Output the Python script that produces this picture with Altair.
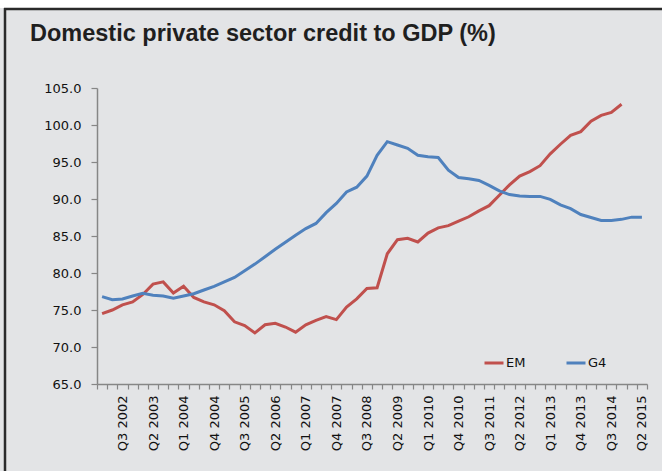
import json
import altair as alt
import pandas as pd

title_text = "Domestic private sector credit to GDP (%)"

quarters = [
    "Q1 2002", "Q2 2002", "Q3 2002", "Q4 2002",
    "Q1 2003", "Q2 2003", "Q3 2003", "Q4 2003",
    "Q1 2004", "Q2 2004", "Q3 2004", "Q4 2004",
    "Q1 2005", "Q2 2005", "Q3 2005", "Q4 2005",
    "Q1 2006", "Q2 2006", "Q3 2006", "Q4 2006",
    "Q1 2007", "Q2 2007", "Q3 2007", "Q4 2007",
    "Q1 2008", "Q2 2008", "Q3 2008", "Q4 2008",
    "Q1 2009", "Q2 2009", "Q3 2009", "Q4 2009",
    "Q1 2010", "Q2 2010", "Q3 2010", "Q4 2010",
    "Q1 2011", "Q2 2011", "Q3 2011", "Q4 2011",
    "Q1 2012", "Q2 2012", "Q3 2012", "Q4 2012",
    "Q1 2013", "Q2 2013", "Q3 2013", "Q4 2013",
    "Q1 2014", "Q2 2014", "Q3 2014", "Q4 2014",
    "Q1 2015", "Q2 2015",
]

em_values = [
    74.5, 75.0, 75.7, 76.1, 77.1, 78.5, 78.8, 77.3, 78.2, 76.7,
    76.1, 75.7, 74.9, 73.4, 72.9, 71.9, 73.0, 73.2, 72.7, 72.0,
    73.0, 73.6, 74.1, 73.7, 75.4, 76.5, 77.9, 78.0, 82.6, 84.5,
    84.7, 84.2, 85.4, 86.1, 86.4, 87.0, 87.6, 88.4, 89.1, 90.5,
    91.9, 93.1, 93.7, 94.5, 96.1, 97.4, 98.6, 99.1, 100.5, 101.3,
    101.7, 102.8,
]

g4_values = [
    76.8, 76.4, 76.5, 76.9, 77.25, 77.0, 76.9, 76.6, 76.9, 77.2,
    77.7, 78.2, 78.8, 79.4, 80.3, 81.2, 82.2, 83.2, 84.15, 85.1,
    86.0, 86.7, 88.15, 89.4, 90.95, 91.6, 93.1, 95.9, 97.75, 97.3,
    96.85, 95.9, 95.7, 95.6, 93.9, 92.9, 92.75, 92.5, 91.85, 91.1,
    90.6, 90.4, 90.35, 90.35, 89.95, 89.2, 88.7, 87.9, 87.5, 87.1,
    87.1, 87.25, 87.55, 87.55,
]

series_names = ["EM", "G4"]
series_colors = ["#C0504D", "#4F81BD"]
y_ticks = [65, 70, 75, 80, 85, 90, 95, 100, 105]

rows = []
for name, vals in zip(series_names, [em_values, g4_values]):
    for i, v in enumerate(vals):
        rows.append({"idx": i, "quarter": quarters[i], "series": name, "value": v})
df = pd.DataFrame(rows)

n = len(quarters)
boundaries = [i - 0.5 for i in range(n + 1)]
label_positions = list(range(2, n, 3))
x_values = sorted(boundaries + label_positions)
label_expr = "datum.value % 1 === 0 ? " + json.dumps(quarters) + "[datum.value] : ''"

W, H = 550, 296
PAD_L, PAD_T = 97, 88
one_row = alt.Data(values=[{"k": 1}])

white_strip = alt.Chart(one_row).mark_rect(fill="#FFFFFF").encode(
    x=alt.value(-PAD_L), x2=alt.value(700), y=alt.value(-PAD_T), y2=alt.value(-80)
)
top_border = alt.Chart(one_row).mark_rule(color="#2a2a2a", strokeWidth=2.5).encode(
    x=alt.value(-93), x2=alt.value(700), y=alt.value(-79)
)
left_border = alt.Chart(one_row).mark_rule(color="#2a2a2a", strokeWidth=2.5).encode(
    x=alt.value(-92), y=alt.value(-80), y2=alt.value(500)
)

lines = alt.Chart(df).mark_line(strokeWidth=3).encode(
    x=alt.X(
        "idx:Q",
        scale=alt.Scale(domain=[-0.5, n - 0.5], nice=False, zero=False),
        axis=alt.Axis(
            title=None,
            values=x_values,
            labelExpr=label_expr,
            labelAngle=-90,
            labelAlign="right",
            labelBaseline="middle",
            labelOverlap=False,
            labelFlush=False,
            labelBound=False,
            labelPadding=6,
            tickSize=5,
            tickOpacity={"condition": {"test": "datum.value % 1 === 0", "value": 0}, "value": 1},
            grid=False,
        ),
    ),
    y=alt.Y(
        "value:Q",
        scale=alt.Scale(domain=[65, 105], nice=False, zero=False),
        axis=alt.Axis(
            title=None,
            values=y_ticks,
            format=".1f",
            tickSize=6,
            labelPadding=10,
            grid=False,
        ),
    ),
    color=alt.Color(
        "series:N",
        scale=alt.Scale(domain=series_names, range=series_colors),
        legend=alt.Legend(
            title=None,
            orient="none",
            legendX=386,
            legendY=264,
            direction="horizontal",
            symbolType="stroke",
            symbolSize=361,
            symbolStrokeWidth=3,
            labelFont="DejaVu Sans",
            labelFontSize=13,
            labelColor="#111111",
            labelOffset=1,
            columnPadding=34,
            padding=0,
        ),
    ),
    order="idx:Q",
)

chart = alt.layer(lines, white_strip, top_border, left_border).properties(
    width=W,
    height=H,
    padding={"left": PAD_L, "top": PAD_T, "right": 662 - PAD_L - W, "bottom": 471 - PAD_T - H},
    autosize=alt.AutoSizeParams(type="none"),
    background="#E3E4E6",
    title=alt.TitleParams(
        text=title_text,
        anchor="start",
        frame="group",
        dx=-67,
        offset=-45,
        fontSize=23.5,
        font="Liberation Sans",
        fontWeight="bold",
        color="#1f1f1f",
    ),
).configure_view(stroke=None).configure_axis(
    domainColor="#868686",
    domainWidth=1.5,
    tickColor="#868686",
    tickWidth=1.2,
    labelFont="DejaVu Sans",
    labelFontSize=13,
    labelColor="#111111",
    zindex=1,
)

chart.save("out.html", embed_options={"renderer": "svg", "actions": False})
